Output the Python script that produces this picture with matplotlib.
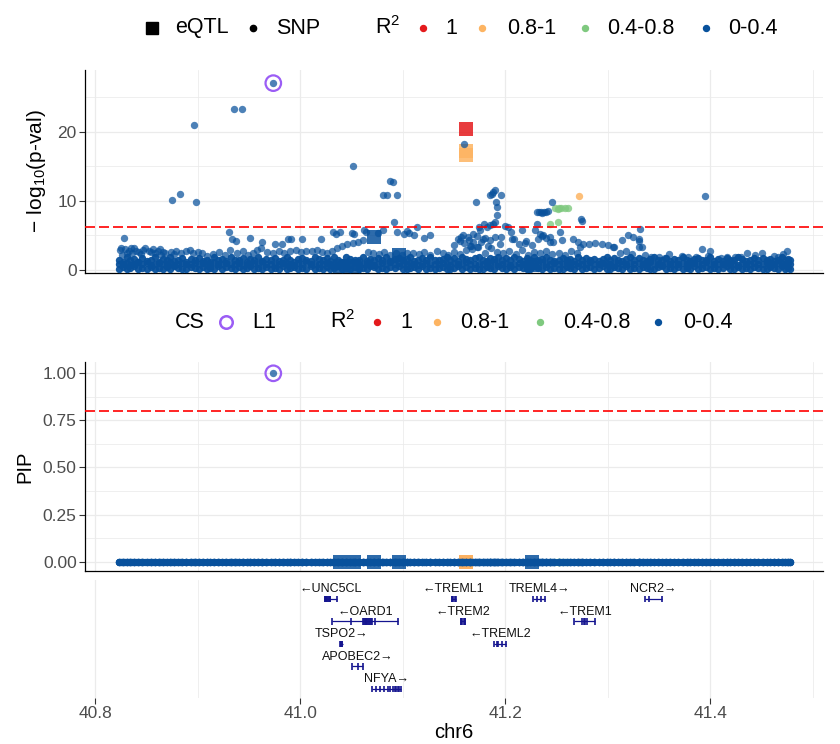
import numpy as np
import matplotlib
matplotlib.use('Agg')
import matplotlib.pyplot as plt
from matplotlib.ticker import FixedLocator

plt.rcParams['font.family'] = ['Liberation Sans', 'DejaVu Sans']

# ---------------- Data ----------------

r2_levels = ['1', '0.8-1', '0.4-0.8', '0-0.4']
r2_colors = {'1': '#E41A1C', '0.8-1': '#FDB462', '0.4-0.8': '#7FC97F', '0-0.4': '#08519C'}

# lead SNP, credible set L1
lead_pos = 40.9737
lead_logp = 27.0
lead_pip = 1.0

# every other SNP has PIP ~ 0
other_pip = 0.0

# dense cloud of weak SNPs (kb on chr6 from 40 Mb), three layers
floor_kb = [823, 827, 831, 834, 838, 842, 846, 850, 854, 858,
            862, 866, 870, 873, 877, 881, 885, 889, 893, 897,
            901, 905, 909, 912, 916, 920, 924, 928, 932, 936,
            940, 944, 948, 951, 955, 959, 963, 967, 971, 975,
            979, 983, 987, 990, 994, 998, 1002, 1006, 1010, 1014,
            1018, 1022, 1026, 1029, 1033, 1037, 1041, 1045, 1049, 1053,
            1057, 1061, 1065, 1068, 1072, 1076, 1080, 1084, 1088, 1092,
            1096, 1100, 1104, 1107, 1111, 1115, 1119, 1123, 1127, 1131,
            1135, 1139, 1143, 1146, 1150, 1154, 1158, 1162, 1166, 1170,
            1174, 1178, 1182, 1185, 1189, 1193, 1197, 1201, 1205, 1209,
            1213, 1217, 1221, 1224, 1228, 1232, 1236, 1240, 1244, 1248,
            1252, 1256, 1260, 1263, 1267, 1271, 1275, 1279, 1283, 1287,
            1291, 1295, 1299, 1302, 1306, 1310, 1314, 1318, 1322, 1326,
            1330, 1334, 1338, 1341, 1345, 1349, 1353, 1357, 1361, 1365,
            1369, 1373, 1377, 1380, 1384, 1388, 1392, 1396, 1400, 1404,
            1408, 1412, 1416, 1419, 1423, 1427, 1431, 1435, 1439, 1443,
            1447, 1451, 1455, 1458, 1462, 1466, 1470, 1473, 1476, 1478]
floor_lo = [0.2, 0.4, 0.1, 0.3, 0.5, 0.2, 0.3, 0.1, 0.4, 0.2,
            0.3, 0.1, 0.4, 0.2, 0.5, 0.3, 0.1, 0.2, 0.4, 0.3,
            0.1, 0.4, 0.2, 0.3, 0.1, 0.5, 0.2, 0.4, 0.3, 0.1,
            0.4, 0.2, 0.3, 0.5, 0.1, 0.3, 0.2, 0.4, 0.1, 0.3,
            0.2, 0.5, 0.1, 0.3, 0.4, 0.2, 0.3, 0.1, 0.5, 0.2,
            0.3, 0.1, 0.4, 0.2, 0.3, 0.5, 0.1, 0.3, 0.2, 0.4,
            0.1, 0.3, 0.2, 0.5, 0.4, 0.1, 0.3, 0.2, 0.4, 0.3,
            0.5, 0.2, 0.1, 0.3, 0.4, 0.2, 0.5, 0.1, 0.3, 0.2,
            0.3, 0.4, 0.2, 0.1, 0.3, 0.5, 0.2, 0.4, 0.1, 0.3,
            0.2, 0.1, 0.4, 0.3, 0.2, 0.5, 0.3, 0.1, 0.4, 0.2,
            0.4, 0.3, 0.1, 0.2, 0.5, 0.3, 0.2, 0.4, 0.1, 0.3,
            0.1, 0.2, 0.4, 0.3, 0.1, 0.5, 0.2, 0.3, 0.4, 0.2,
            0.3, 0.5, 0.2, 0.1, 0.4, 0.3, 0.2, 0.5, 0.1, 0.3,
            0.2, 0.4, 0.3, 0.1, 0.2, 0.4, 0.5, 0.2, 0.3, 0.1,
            0.4, 0.1, 0.3, 0.2, 0.5, 0.1, 0.3, 0.4, 0.2, 0.3,
            0.1, 0.3, 0.5, 0.2, 0.1, 0.4, 0.2, 0.3, 0.1, 0.4,
            0.3, 0.2, 0.1, 0.4, 0.3, 0.2, 0.5, 0.1, 0.3, 0.2]
floor_mid = [0.9, 0.8, 1.0, 0.7, 0.9, 1.1, 0.8, 1.0, 0.7, 0.9,
             1.0, 0.8, 0.9, 1.1, 0.7, 0.9, 1.0, 0.8, 0.9, 1.0,
             0.8, 1.0, 0.9, 0.7, 1.1, 0.8, 0.9, 1.0, 0.8, 0.9,
             1.0, 0.7, 0.9, 0.8, 1.0, 0.9, 1.1, 0.8, 0.9, 0.7,
             0.9, 1.0, 0.8, 0.9, 0.7, 1.0, 0.9, 1.1, 0.8, 0.9,
             0.8, 0.9, 1.0, 0.8, 0.9, 0.7, 1.0, 0.9, 0.8, 1.1,
             0.9, 0.8, 1.0, 0.9, 0.7, 0.9, 1.0, 0.8, 1.1, 0.9,
             1.0, 0.9, 0.8, 1.0, 0.9, 0.7, 0.9, 1.0, 0.8, 0.9,
             0.8, 1.0, 0.9, 0.7, 1.0, 0.8, 0.9, 1.1, 0.9, 0.8,
             0.9, 0.8, 1.0, 0.9, 1.1, 0.8, 0.9, 1.0, 0.7, 0.9,
             1.0, 0.9, 0.8, 1.0, 0.9, 0.8, 1.1, 0.9, 0.8, 1.0,
             0.8, 0.9, 1.0, 0.7, 0.9, 1.0, 0.8, 0.9, 1.1, 0.8,
             0.9, 1.0, 0.8, 0.9, 0.7, 1.0, 0.9, 0.8, 1.0, 0.9,
             1.0, 0.8, 0.9, 1.1, 0.8, 0.9, 0.7, 1.0, 0.9, 0.8,
             0.9, 1.0, 0.8, 0.9, 1.0, 0.8, 0.9, 1.1, 0.8, 0.9,
             0.8, 0.9, 1.0, 0.8, 0.9, 0.7, 1.0, 0.9, 0.8, 1.0,
             0.9, 0.8, 1.0, 0.9, 0.8, 1.0, 0.9, 0.8, 1.0, 0.9]
floor_hi = [1.5, 1.2, 1.8, 1.4, 1.6, 1.1, 1.7, 1.3, 1.5, 1.9,
            1.2, 1.6, 1.4, 1.8, 1.3, 1.5, 1.7, 1.2, 1.6, 1.4,
            1.7, 1.3, 1.5, 1.2, 1.8, 1.4, 1.6, 1.3, 1.9, 1.5,
            1.4, 1.7, 1.2, 1.6, 1.5, 1.8, 1.3, 1.6, 1.4, 1.7,
            1.3, 1.5, 1.8, 1.4, 1.2, 1.6, 1.7, 1.5, 1.3, 1.8,
            1.6, 1.4, 1.7, 1.3, 1.9, 1.5, 1.2, 1.8, 1.6, 1.4,
            1.5, 1.8, 1.3, 1.6, 1.4, 1.7, 1.5, 1.9, 1.3, 1.6,
            1.7, 1.4, 1.6, 1.8, 1.3, 1.5, 1.7, 1.4, 1.8, 1.5,
            1.4, 1.6, 1.9, 1.5, 1.7, 1.3, 1.8, 1.6, 1.4, 1.7,
            1.8, 1.5, 1.3, 1.7, 1.6, 1.9, 1.4, 1.7, 1.5, 1.8,
            1.6, 1.3, 1.7, 1.5, 1.8, 1.4, 1.6, 1.9, 1.5, 1.3,
            1.5, 1.7, 1.4, 1.6, 1.3, 1.8, 1.5, 1.7, 1.4, 1.6,
            1.3, 1.6, 1.8, 1.4, 1.7, 1.5, 1.3, 1.6, 1.8, 1.4,
            1.7, 1.5, 1.3, 1.6, 1.8, 1.4, 1.5, 1.7, 1.3, 1.6,
            1.4, 1.8, 1.5, 1.3, 1.6, 1.7, 1.4, 1.5, 1.8, 1.3,
            1.6, 1.3, 1.7, 1.5, 1.4, 1.8, 1.6, 1.3, 1.5, 1.7,
            1.5, 1.7, 1.4, 1.6, 1.3, 1.5, 1.8, 1.4, 1.6, 1.5]

# upper edge of the cloud (-log10 p about 2-4.5)
upper_kb = [824, 829, 833, 838, 843, 847, 852, 856, 861, 866,
            826, 836, 845, 858, 864, 874, 879, 884, 889, 895,
            900, 904, 909, 915, 921, 927, 931, 938, 944, 949,
            954, 958, 962, 968, 973, 979, 984, 990, 996, 1001,
            1006, 1011, 1016, 1021, 1026, 1031, 1036, 1041, 1046, 1051,
            1056, 1061, 1066, 1071, 1077, 1082, 1088, 1093, 1099, 1104,
            1110, 1116, 1121, 1127, 1133, 1139, 1144, 1150, 1156, 1162,
            1168, 1173, 1180, 1186, 1192, 1198, 1204, 1210, 1216, 1222,
            1228, 1234, 1240, 1246, 1252, 1258, 1264, 1270, 1276, 1282,
            1288, 1294, 1300, 1306, 1312, 1318, 1324, 1330, 1336, 1342,
            1350, 1360, 1372, 1386, 1392, 1400, 1416, 1436, 1450, 1471,
            1475, 1430, 1462, 1410, 1378, 1356, 1444, 1466, 1424, 1398,
            825, 831, 835, 840, 849, 854, 863, 868, 877, 892,
            1150, 1154, 1160, 1166, 1176, 1183, 1195, 1207, 1219, 1244]
upper_logp = [2.9, 3.0, 2.7, 3.1, 2.6, 2.9, 2.8, 3.0, 2.7, 2.6,
              2.2, 2.4, 2.3, 2.5, 2.2, 2.6, 2.8, 2.5, 2.7, 2.4,
              2.6, 2.5, 2.0, 2.3, 2.6, 2.1, 2.9, 2.4, 2.7, 2.2,
              2.5, 2.9, 3.2, 2.6, 2.4, 2.7, 2.5, 2.8, 2.9, 2.6,
              2.8, 2.7, 2.9, 2.6, 2.5, 2.8, 3.1, 3.4, 3.7, 3.9,
              4.1, 4.3, 2.6, 2.4, 2.3, 2.6, 2.2, 2.5, 2.1, 2.4,
              2.5, 2.3, 2.6, 2.2, 2.8, 2.4, 2.2, 2.6, 2.3, 2.9,
              3.0, 3.3, 2.5, 3.1, 2.6, 2.4, 2.7, 2.3, 2.9, 2.2,
              2.6, 2.4, 2.8, 2.3, 2.5, 2.2, 2.7, 2.4, 3.7, 3.8,
              3.85, 3.8, 3.6, 3.3, 2.5, 2.8, 2.3, 3.3, 2.2, 1.8,
              1.9, 2.3, 2.05, 1.8, 2.95, 2.8, 1.8, 2.4, 2.4, 2.3,
              2.8, 1.9, 2.0, 1.7, 1.8, 1.7, 2.1, 1.9, 1.8, 2.0,
              3.1, 2.5, 3.2, 2.8, 3.1, 2.6, 3.0, 2.4, 2.3, 2.9,
              3.6, 4.4, 3.9, 3.5, 4.1, 3.4, 3.7, 4.5, 3.9, 4.7]

# scattered SNPs below the threshold (-log10 p about 3.3-6.2)
mid_kb = [828, 930, 933, 937, 951, 963, 975, 982, 988, 991,
          1002, 1020, 1032, 1035, 1039, 1050, 1052, 1062, 1064, 1076,
          1081, 1094, 1101, 1104, 1106, 1111, 1121, 1127, 1157, 1159,
          1156, 1164, 1167, 1169, 1169, 1172, 1175, 1174, 1179, 1185,
          1182, 1185, 1188, 1190, 1190, 1192, 1180, 1178, 1172, 1165,
          1200, 1203, 1206, 1216, 1229, 1231, 1234, 1237, 1247, 1253,
          1255, 1266, 1271, 1273, 1305, 1314, 1320, 1325, 1330, 1333,
          1330, 1232, 1236, 1240, 1244, 1226, 1220, 1213, 1209, 1196]
mid_logp = [4.6, 5.45, 4.5, 4.15, 4.6, 3.96, 3.8, 3.8, 4.5, 4.4,
            4.4, 4.5, 5.45, 5.2, 5.55, 5.4, 5.25, 5.7, 5.5, 5.3,
            5.7, 5.45, 5.2, 5.6, 5.3, 5.0, 4.6, 5.0, 4.7, 5.0,
            4.15, 4.8, 3.5, 5.2, 4.0, 3.3, 5.7, 6.17, 6.67, 6.5,
            6.2, 4.25, 6.7, 6.9, 4.7, 7.9, 4.6, 4.4, 4.9, 4.3,
            6.3, 6.2, 5.45, 5.7, 5.7, 6.7, 5.2, 5.0, 4.0, 5.45,
            4.25, 4.5, 4.0, 3.3, 3.3, 4.25, 5.0, 4.8, 4.2, 3.3,
            4.5, 4.4, 4.9, 4.6, 4.0, 3.6, 4.2, 3.8, 4.4, 4.8]

# stronger signals, R2 0-0.4
hit_pos = [40.9353, 40.9431, 40.8966, 40.8748, 40.8826, 40.8985, 41.0517, 41.0875, 41.0901, 41.0804,
           41.0849, 41.0940, 41.0917, 41.1136, 41.1597, 41.1900, 41.1880, 41.1855, 41.1868, 41.1960,
           41.1912, 41.1915, 41.1714, 41.2308, 41.2330, 41.2350, 41.2375, 41.2395, 41.2415, 41.2360,
           41.2460, 41.2738, 41.2745, 41.3318, 41.3948]
hit_logp = [23.2, 23.2, 20.9, 10.1, 10.96, 9.85, 15.07, 12.84, 12.7, 10.77,
            10.8, 10.8, 6.95, 6.27, 18.26, 11.6, 11.3, 10.8, 11.0, 10.77,
            9.8, 9.1, 9.8, 8.35, 8.4, 8.35, 8.4, 8.4, 8.45, 8.2,
            9.8, 7.3, 7.1, 5.84, 10.72]

# R2 0.4-0.8
green_pos = [41.2485, 41.2510, 41.2545, 41.2580, 41.2615, 41.2525, 41.2513, 41.2440]
green_logp = [9.0, 8.8, 9.0, 9.0, 9.0, 8.9, 6.9, 6.6]

# R2 0.8-1
orange_pos = [41.2722]
orange_logp = [10.67]

# eQTL variants
eqtl_pos = [41.0387, 41.0520, 41.0715, 41.0963, 41.2258, 41.1617, 41.1617, 41.1617]
eqtl_logp = [0.6, 0.5, 4.8, 2.1, 0.7, 20.4, 17.2, 16.6]
eqtl_r2 = ['0-0.4', '0-0.4', '0-0.4', '0-0.4', '0-0.4', '1', '0.8-1', '0.8-1']

gwas_threshold = 6.17
pip_threshold = 0.8

# genes
gene_names = ['UNC5CL', 'OARD1', 'TSPO2', 'APOBEC2', 'NFYA', 'TREML1', 'TREM2', 'TREML2',
              'TREML4', 'TREM1', 'NCR2']
gene_start = [41.0236, 41.0306, 41.0387, 41.0503, 41.0697, 41.1477, 41.1565, 41.1889,
              41.2273, 41.2670, 41.3363]
gene_end = [41.0363, 41.0957, 41.0413, 41.0615, 41.0980, 41.1516, 41.1610, 41.2007,
            41.2387, 41.2875, 41.3526]
gene_strand = ['-', '-', '+', '+', '+', '-', '-', '-', '+', '-', '+']
gene_row = [1, 2, 3, 4, 5, 1, 2, 3, 1, 2, 1]
gene_exons = [
    [41.0237, 41.0243, 41.0249, 41.0256, 41.0263, 41.0270, 41.0278, 41.0286, 41.0294, 41.0362],
    [41.0307, 41.0492, 41.0615, 41.0622, 41.0630, 41.0638, 41.0646, 41.0655, 41.0664, 41.0673,
     41.0682, 41.0690, 41.0697, 41.0729, 41.0956],
    [41.0388, 41.0394, 41.0400, 41.0406, 41.0412],
    [41.0504, 41.0560, 41.0614],
    [41.0698, 41.0742, 41.0774, 41.0813, 41.0852, 41.0880, 41.0905, 41.0920, 41.0935, 41.0950,
     41.0965, 41.0979],
    [41.1478, 41.1484, 41.1490, 41.1508, 41.1515],
    [41.1566, 41.1572, 41.1578, 41.1596, 41.1603, 41.1609],
    [41.1890, 41.1916, 41.1934, 41.1966, 41.2006],
    [41.2274, 41.2307, 41.2350, 41.2386],
    [41.2671, 41.2745, 41.2772, 41.2780, 41.2800, 41.2874],
    [41.3364, 41.3402, 41.3525],
]

x_major = [40.8, 41.0, 41.2, 41.4]
x_minor = [40.9, 41.1, 41.3, 41.5]

# ---------------- Plot ----------------

W, H = 840, 744
fig = plt.figure(figsize=(W / 100, H / 100), dpi=100)


def box(l, t, r, b):
    return [l / W, 1 - b / H, (r - l) / W, (b - t) / H]


ax1 = fig.add_axes(box(85, 70, 823, 273))
ax2 = fig.add_axes(box(85, 362, 823, 571))
ax3 = fig.add_axes(box(85, 580, 823, 698))

grid_col = '#EBEBEB'
tick_col = '#4D4D4D'
dot_s = 28


def style_panel(ax):
    ax.set_xlim(40.79, 41.51)
    ax.xaxis.set_major_locator(FixedLocator(x_major))
    ax.xaxis.set_minor_locator(FixedLocator(x_minor))
    ax.grid(True, which='major', color=grid_col, lw=0.9)
    ax.grid(True, which='minor', color=grid_col, lw=0.55)
    ax.set_axisbelow(True)
    for s in ['top', 'right']:
        ax.spines[s].set_visible(False)
    for s in ['left', 'bottom']:
        ax.spines[s].set_linewidth(0.9)
        ax.spines[s].set_color('black')
    ax.tick_params(axis='x', which='both', length=0, labelbottom=False)
    ax.tick_params(axis='y', which='major', length=4, width=0.8, color='#333333',
                   labelsize=12.5, labelcolor=tick_col, pad=2)
    ax.tick_params(axis='y', which='minor', length=0)


floor_pos = [40 + k / 1000 for k in floor_kb + floor_kb + floor_kb]
floor_logp = floor_lo + floor_mid + floor_hi
scat_pos = [40 + k / 1000 for k in upper_kb + mid_kb] + hit_pos
scat_logp = upper_logp + mid_logp + hit_logp
blue = r2_colors['0-0.4']


def draw_snps(ax, y_floor, y_scat, y_green, y_orange, y_eqtl, y_lead):
    # eQTL squares underneath, in data order
    for x, y, lev in zip(eqtl_pos, y_eqtl, eqtl_r2):
        ax.scatter(x, y, s=110, marker='s', color=r2_colors[lev], alpha=0.85,
                   linewidths=0, zorder=2.5)
    ax.scatter(green_pos, y_green, s=dot_s, color=r2_colors['0.4-0.8'], alpha=0.8,
               linewidths=0, zorder=2.8)
    ax.scatter(orange_pos, y_orange, s=dot_s, color=r2_colors['0.8-1'], alpha=0.85,
               linewidths=0, zorder=2.8)
    ax.scatter(floor_pos, y_floor, s=dot_s, color=blue, alpha=0.95, linewidths=0, zorder=3)
    ax.scatter(scat_pos, y_scat, s=dot_s, color=blue, alpha=0.72, linewidths=0, zorder=3)
    ax.scatter(lead_pos, y_lead, s=dot_s, color=blue, alpha=0.72, linewidths=0, zorder=3)
    ax.scatter(lead_pos, y_lead, s=125, facecolors='none', edgecolors='#9B5DF5',
               linewidths=1.6, zorder=4)


# top panel: -log10 p
style_panel(ax1)
ax1.set_ylim(-0.45, 28.9)
ax1.yaxis.set_major_locator(FixedLocator([0, 10, 20]))
ax1.yaxis.set_minor_locator(FixedLocator([5, 15, 25]))
draw_snps(ax1, floor_logp, scat_logp, green_logp, orange_logp, eqtl_logp, lead_logp)
ax1.axhline(gwas_threshold, color='red', lw=1.2, dashes=(6.0, 2.4), zorder=3.5)

# middle panel: PIP
style_panel(ax2)
ax2.set_ylim(-0.05, 1.06)
ax2.yaxis.set_major_locator(FixedLocator([0, 0.25, 0.5, 0.75, 1.0]))
ax2.yaxis.set_minor_locator(FixedLocator([0.125, 0.375, 0.625, 0.875]))
ax2.set_yticklabels(['0.00', '0.25', '0.50', '0.75', '1.00'])
draw_snps(ax2, [other_pip] * len(floor_pos), [other_pip] * len(scat_pos),
          [other_pip] * len(green_pos), [other_pip] * len(orange_pos),
          [other_pip] * len(eqtl_pos), lead_pip)
ax2.axhline(pip_threshold, color='red', lw=1.2, dashes=(6.0, 2.4), zorder=3.5)

# gene track
gene_col = '#14148F'
ax3.set_xlim(40.79, 41.51)
ax3.set_ylim(5.4, 0.156)
ax3.xaxis.set_major_locator(FixedLocator(x_major))
ax3.xaxis.set_minor_locator(FixedLocator(x_minor))
ax3.set_xticklabels(['40.8', '41.0', '41.2', '41.4'])
ax3.grid(True, axis='x', which='major', color=grid_col, lw=0.9)
ax3.grid(True, axis='x', which='minor', color=grid_col, lw=0.55)
ax3.set_axisbelow(True)
for s in ax3.spines.values():
    s.set_visible(False)
ax3.set_yticks([])
ax3.tick_params(axis='x', which='major', length=4, width=0.8, color='#333333',
                labelsize=12.5, labelcolor=tick_col, pad=2)
ax3.tick_params(axis='x', which='minor', length=0)

for name, st, en, strand, row, ex in zip(gene_names, gene_start, gene_end, gene_strand,
                                         gene_row, gene_exons):
    ax3.hlines(row, st, en, color=gene_col, lw=0.9, zorder=3)
    ax3.vlines(ex, row - 0.15, row + 0.15, color=gene_col, lw=1.2, zorder=3)
    label = '\u2190' + name if strand == '-' else name + '\u2192'
    ax3.text((st + en) / 2, row - 0.43, label, ha='center', va='center', fontsize=9,
             color='#111111', zorder=4)

# axis titles
fig.text(37 / W, 1 - 171.5 / H, r'$\mathregular{-\ log_{10}}$(p-val)', rotation=90,
         ha='center', va='center', fontsize=15)
fig.text(25 / W, 1 - 466.5 / H, 'PIP', rotation=90, ha='center', va='center', fontsize=14.5)
fig.text(454 / W, 1 - 733 / H, 'chr6', ha='center', va='center', fontsize=14.5)

# legends (drawn in pixel space)
lax = fig.add_axes([0, 0, 1, 1], zorder=10)
lax.set_xlim(0, W)
lax.set_ylim(H, 0)
lax.axis('off')
lfs = 15.5

ly1 = 28
lax.plot(152, ly1, 's', ms=9, color='black')
lax.text(175, ly1, 'eQTL', va='center', fontsize=lfs)
lax.plot(253, ly1, 'o', ms=4.5, color='black')
lax.text(276, ly1, 'SNP', va='center', fontsize=lfs)
lax.text(375, ly1, r'R$^\mathregular{2}$', va='center', fontsize=lfs)
for xd, xt, lev in zip([423, 482, 585, 706], [445, 507, 607, 728], r2_levels):
    lax.plot(xd, ly1, 'o', ms=4.3, color=r2_colors[lev])
    lax.text(xt, ly1, lev, va='center', fontsize=lfs)

ly2 = 322
lax.text(175, ly2, 'CS', va='center', fontsize=lfs)
lax.plot(226, ly2, 'o', ms=9, mfc='none', mec='#9B5DF5', mew=1.8)
lax.text(252, ly2, 'L1', va='center', fontsize=lfs)
lax.text(330, ly2, r'R$^\mathregular{2}$', va='center', fontsize=lfs)
for xd, xt, lev in zip([377, 437, 540, 658], [400, 460, 563, 683], r2_levels):
    lax.plot(xd, ly2, 'o', ms=4.3, color=r2_colors[lev])
    lax.text(xt, ly2, lev, va='center', fontsize=lfs)

fig.savefig('out.png', dpi=100)
